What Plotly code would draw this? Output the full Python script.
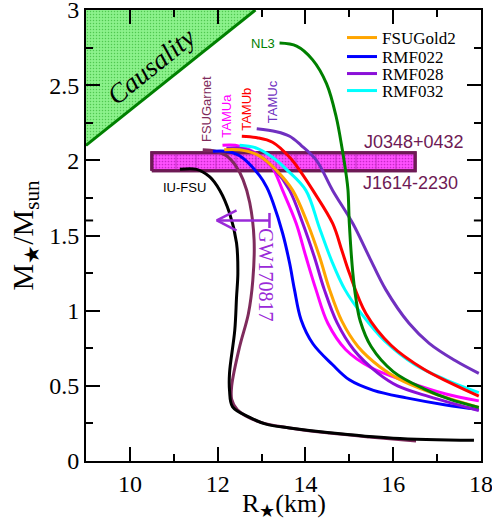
import plotly.graph_objects as go

# ---------------- data ----------------
# Mass-radius curves: radius (km), mass (M_sun)
fsugarnet_R = [11.66, 11.95, 12.2, 12.42, 12.58, 12.73, 12.83, 12.8, 12.7, 12.5, 12.32, 12.32, 12.45, 12.95, 13.64, 14.55, 15.45, 16.52]
fsugarnet_M = [2.07, 2.06, 2.03, 1.96, 1.87, 1.72, 1.47, 1.2, 0.98, 0.76, 0.5, 0.41, 0.34, 0.26, 0.22, 0.186, 0.16, 0.133]

iufsu_R = [11.14, 11.52, 11.82, 12.05, 12.27, 12.43, 12.46, 12.43, 12.39, 12.27, 12.27, 12.34, 12.73, 13.1, 13.64, 14.5, 16.0, 17.84]
iufsu_M = [1.94, 1.94, 1.89, 1.80, 1.65, 1.45, 1.25, 1.09, 0.87, 0.585, 0.47, 0.36, 0.29, 0.245, 0.22, 0.19, 0.152, 0.138]

rmf022_R = [11.89, 12.2, 12.5, 12.95, 13.12, 13.26, 13.48, 13.64, 13.75, 13.9, 14.17, 14.62, 15.0, 15.55, 16.3, 17.2, 17.95]
rmf022_M = [2.06, 2.06, 2.03, 1.90, 1.82, 1.72, 1.515, 1.315, 1.14, 0.94, 0.78, 0.64, 0.54, 0.47, 0.42, 0.373, 0.344]

tamua_R = [12.11, 12.4, 12.73, 13.0, 13.25, 13.48, 13.79, 14.01, 14.24, 14.51, 14.92, 15.5, 16.3, 17.2, 17.95]
tamua_M = [2.10, 2.10, 2.07, 2.02, 1.95, 1.80, 1.58, 1.36, 1.14, 0.916, 0.74, 0.62, 0.53, 0.446, 0.40]

rmf028_R = [12.2, 12.5, 12.9, 13.3, 13.64, 13.94, 14.2, 14.43, 14.72, 15.1, 15.65, 16.1, 16.82, 17.95]
rmf028_M = [2.08, 2.08, 2.04, 1.94, 1.80, 1.58, 1.36, 1.14, 0.92, 0.74, 0.585, 0.50, 0.428, 0.335]

fsugold2_R = [12.15, 12.5, 12.95, 13.35, 13.71, 14.05, 14.32, 14.55, 14.83, 15.2, 15.7, 16.1, 16.82, 17.95]
fsugold2_M = [2.07, 2.07, 2.03, 1.93, 1.80, 1.58, 1.36, 1.14, 0.93, 0.76, 0.625, 0.55, 0.46, 0.357]

rmf032_R = [12.5, 12.9, 13.25, 13.6, 14.01, 14.32, 14.6, 14.9, 15.3, 15.8, 16.5, 17.2, 17.95]
rmf032_M = [2.10, 2.08, 2.02, 1.93, 1.80, 1.55, 1.33, 1.14, 0.97, 0.80, 0.64, 0.54, 0.455]

tamub_R = [12.55, 12.9, 13.25, 13.64, 13.9, 14.17, 14.62, 14.83, 15.0, 15.38, 15.95, 16.7, 17.3, 17.95]
tamub_M = [2.16, 2.15, 2.12, 2.02, 1.92, 1.80, 1.58, 1.40, 1.25, 0.98, 0.77, 0.61, 0.52, 0.432]

tamuc_R = [12.89, 13.34, 13.64, 13.9, 14.25, 14.62, 15.08, 15.45, 15.83, 16.36, 16.82, 17.4, 17.95]
tamuc_M = [2.21, 2.19, 2.16, 2.10, 2.0, 1.80, 1.58, 1.36, 1.14, 0.916, 0.783, 0.67, 0.583]

nl3_R = [13.41, 13.8, 14.16, 14.48, 14.7, 14.84, 14.93, 14.97, 15.0, 15.08, 15.15, 15.25, 15.5, 16.0, 16.7, 17.3, 17.95]
nl3_M = [2.78, 2.76, 2.67, 2.51, 2.29, 2.07, 1.9, 1.80, 1.58, 1.25, 1.08, 0.93, 0.76, 0.595, 0.48, 0.41, 0.357]

# causality limit line (R, M)
caus_R = [9.0, 12.86]
caus_M = [2.1, 3.0]

# pulsar mass band J0348+0432 / J1614-2230
band_R = [10.5, 16.5]
band_M = [1.93, 2.05]

# GW170817 radius bound at 1.6 M_sun
gw_M = 1.6
gw_R = [11.98, 13.18]

# axis ticks
x_ticks = [10, 12, 14, 16, 18]
y_ticks = [0, 0.5, 1, 1.5, 2, 2.5, 3]
y_ticklabels = ["0", "0.5", "1", "1.5", "2", "2.5", "3"]

# ---------------- figure ----------------
SERIF = "Liberation Serif, serif"
SANS = "Liberation Sans, sans-serif"

fig = go.Figure()

# causality region
fig.add_trace(go.Scatter(
    x=[caus_R[0], caus_R[0], caus_R[1], caus_R[0]],
    y=[caus_M[0], caus_M[1], caus_M[1], caus_M[0]],
    mode="lines", fill="toself", line=dict(width=0, color="rgba(0,0,0,0)"),
    fillcolor="#88f088",
    fillpattern=dict(shape=".", bgcolor="#8cf28c", fgcolor="#50c850", size=3, solidity=0.2),
    showlegend=False, hoverinfo="skip"))
fig.add_trace(go.Scatter(x=caus_R, y=caus_M, mode="lines",
                         line=dict(color="#008000", width=3),
                         showlegend=False, hoverinfo="skip"))

# pulsar band
bx = [band_R[0], band_R[1], band_R[1], band_R[0], band_R[0]]
by = [band_M[0], band_M[0], band_M[1], band_M[1], band_M[0]]
fig.add_trace(go.Scatter(
    x=bx, y=by, mode="lines", fill="toself",
    line=dict(color="#6e1a55", width=3),
    fillcolor="#ff40ff",
    fillpattern=dict(shape=".", bgcolor="#ff50ff", fgcolor="#c828c8", size=3, solidity=0.25),
    showlegend=False, hoverinfo="skip"))
fig.add_trace(go.Scatter(
    x=bx, y=by, mode="lines", fill="toself",
    line=dict(color="#6e1a55", width=3),
    fillcolor="rgba(0,0,0,0)",
    fillpattern=dict(shape="|", bgcolor="rgba(0,0,0,0)", fgcolor="#c030c0", size=20, solidity=0.05),
    showlegend=False, hoverinfo="skip"))

def curve(R, M, color, name=None, legend=None):
    fig.add_trace(go.Scatter(
        x=R, y=M, mode="lines", line=dict(color=color, width=3, shape="spline", smoothing=1.0),
        name=name if name else " ", showlegend=legend is not None,
        legend=legend if legend else "legend", hoverinfo="skip"))

curve(fsugarnet_R, fsugarnet_M, "#7f2b5c")
curve(iufsu_R, iufsu_M, "#000000")
curve(rmf022_R, rmf022_M, "#0000ff", "RMF022", "legend2")
curve(tamua_R, tamua_M, "#ff00ff")
curve(rmf028_R, rmf028_M, "#8a10d8", "RMF028", "legend3")
curve(fsugold2_R, fsugold2_M, "#ffa500", "FSUGold2", "legend")
curve(rmf032_R, rmf032_M, "#00ffff", "RMF032", "legend4")
curve(tamub_R, tamub_M, "#ff0000")
curve(tamuc_R, tamuc_M, "#7030c0")
curve(nl3_R, nl3_M, "#008000")

# GW170817 arrow (shaft, T-bar, open head)
gw_col = "#9a2ad8"
head_dR = 0.45
head_dM = 0.067
fig.add_trace(go.Scatter(x=gw_R, y=[gw_M, gw_M], mode="lines",
                         line=dict(color=gw_col, width=2.5), showlegend=False, hoverinfo="skip"))
fig.add_trace(go.Scatter(x=[gw_R[1], gw_R[1]], y=[gw_M - 0.05, gw_M + 0.05], mode="lines",
                         line=dict(color=gw_col, width=2.5), showlegend=False, hoverinfo="skip"))
fig.add_trace(go.Scatter(x=[gw_R[0] + head_dR, gw_R[0], gw_R[0] + head_dR],
                         y=[gw_M + head_dM, gw_M, gw_M - head_dM], mode="lines",
                         line=dict(color=gw_col, width=2.5), showlegend=False, hoverinfo="skip"))

# extra axis marks at 1.6
for xp0, xp1 in [(0, 0.018), (0.982, 1.0)]:
    fig.add_shape(type="line", xref="paper", yref="y", x0=xp0, x1=xp1, y0=gw_M, y1=gw_M,
                  line=dict(color="black", width=2))

# ---------------- annotations ----------------
def note(x, y, text, color, size, family=SANS, angle=0, xanchor="center", yanchor="middle", italic=False):
    fig.add_annotation(x=x, y=y, xref="x", yref="y", text=text, showarrow=False,
                       font=dict(color=color, size=size, family=family,
                                 style="italic" if italic else "normal"),
                       textangle=angle, xanchor=xanchor, yanchor=yanchor)

note(10.49, 2.63, "Causality", "black", 27, SERIF, angle=-39, italic=True)
note(nl3_R[0] - 0.05, nl3_M[0], "NL3", "#008000", 13, xanchor="right")
note(11.73, 2.34, "FSUGarnet", "#7f2b5c", 13, angle=-90)
note(12.2, 2.30, "TAMUa", "#ff00ff", 13, angle=-90)
note(12.66, 2.34, "TAMUb", "#ff0000", 13, angle=-90)
note(13.25, 2.39, "TAMUc", "#7030c0", 13, angle=-90)
note(11.25, 1.82, "IU-FSU", "black", 13)
note(16.48, 2.12, "J0348+0432", "#6e1a55", 18)
note(16.4, 1.85, "J1614-2230", "#6e1a55", 18)
note(13.11, 1.24, "GW170817", gw_col, 20, SERIF, angle=90)

# axis titles
fig.add_annotation(xref="paper", yref="paper", x=0.5, y=-(505 - 461) / 451, yanchor="middle",
                   text="R<sub>★</sub>(km)", showarrow=False,
                   font=dict(size=26, family=SERIF, color="black"))
fig.add_annotation(xref="paper", yref="paper", x=-(86 - 24) / 395, xanchor="center", y=0.5,
                   text="M<sub>★</sub>/M<sub>sun</sub>",
                   textangle=-90, showarrow=False, font=dict(size=30, family=SERIF, color="black"))

axis_common = dict(showline=True, linewidth=2, linecolor="black", mirror="ticks",
                   ticks="inside", ticklen=14, tickwidth=2, tickcolor="black",
                   showgrid=False, zeroline=False, automargin=False, ticklabeloverflow="allow",
                   tickfont=dict(family=SERIF, size=24, color="black"))

fig.update_layout(
    template="none",
    width=492, height=525,
    margin=dict(l=86, r=11, t=10, b=64),
    paper_bgcolor="white", plot_bgcolor="white",
    font=dict(family=SERIF),
    xaxis=dict(range=[9, 18], tickvals=x_ticks, ticktext=[str(v) for v in x_ticks],
               minor=dict(dtick=1, tick0=9, ticks="inside", ticklen=7, tickwidth=2, tickcolor="black"),
               **axis_common),
    yaxis=dict(range=[0, 3], tickvals=y_ticks, ticktext=y_ticklabels,
               minor=dict(dtick=0.25, tick0=0, ticks="inside", ticklen=7, tickwidth=2, tickcolor="black"),
               **axis_common),
)

leg_rows = [("legend", 38), ("legend2", 57), ("legend3", 74), ("legend4", 91)]
for key, py in leg_rows:
    fig.update_layout({key: dict(x=(342 - 86) / 395, y=(461 - py) / 451, xanchor="left", yanchor="middle",
                                 bgcolor="rgba(0,0,0,0)", borderwidth=0, itemwidth=30,
                                 font=dict(family=SERIF, size=17, color="black"))})

fig.write_html("out.html", config={"displayModeBar": False},
               post_script="document.body.style.margin='0';document.body.style.padding='0';")
